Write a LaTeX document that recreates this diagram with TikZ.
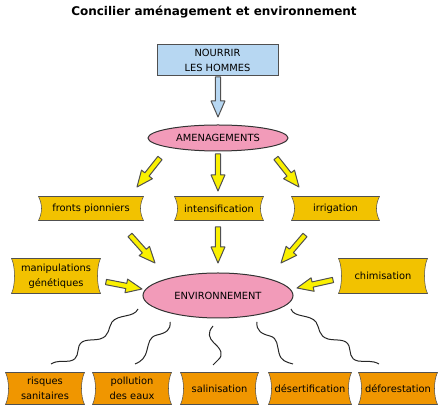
\documentclass[tikz,border=0pt]{standalone}
\usepackage{fontspec}
\setmainfont{DejaVu Sans}
\usetikzlibrary{shapes.geometric,calc,backgrounds}

\definecolor{hommesblue}{RGB}{183,215,242}
\definecolor{envpink}{RGB}{242,155,185}
\definecolor{actiongold}{RGB}{242,194,0}
\definecolor{effectorange}{RGB}{240,150,0}
\definecolor{arrowyellow}{RGB}{250,240,0}
\definecolor{edgegray}{RGB}{80,80,80}

\tikzset{every picture/.style={line width=0.75pt}}
\tikzset{
	boxtext/.style={inner sep=0pt, align=center, font=\fontsize{7.4}{11.25}\selectfont},
	goalbox/.style={boxtext, draw=edgegray, fill=hommesblue},
	hub/.style={boxtext, ellipse, draw=black!80, fill=envpink},
	curvedbox/.style={draw=edgegray},
	yarrow/.style={draw=edgegray, fill=arrowyellow, line join=round},
	barrow/.style={draw=edgegray, fill=hommesblue, line join=round},
	wave/.style={black!85, line width=0.75pt},
}

% block arrow: style, tail, tip
\newcommand{\blockarrow}[3]{%
	\coordinate (ba) at ($#3!12pt!#2$);
	\draw[#1] ($#2!2pt!90:#3$) -- ($(ba)!2pt!90:#3$) -- ($(ba)!5.2pt!90:#3$) -- #3 -- ($(ba)!5.2pt!-90:#3$) -- ($(ba)!2pt!-90:#3$) -- ($#2!2pt!-90:#3$) -- cycle;}

\begin{document}
\begin{tikzpicture}[x=0.75pt,y=0.75pt,yscale=-1,xscale=1]
	\useasboundingbox (0,0) rectangle (444,416);
	
	% Title
	\node (title) [anchor=base, inner sep=0pt, font=\fontsize{9}{11}\selectfont\bfseries] at (214,16) {Concilier aménagement et environnement};
	
	% Top of the chain
	\node (nourrir) [goalbox, minimum width=121*0.75pt, minimum height=31*0.75pt] at (217.5,60.5) {NOURRIR\\LES HOMMES};
	\node (amen) [hub, minimum width=140*0.75pt, minimum height=26*0.75pt] at (218,138) {AMENAGEMENTS};
	\node (env) [hub, minimum width=150*0.75pt, minimum height=45*0.75pt] at (218,295.5) {ENVIRONNEMENT};
	
	% Actions
	\node (fronts) [boxtext, minimum width=104*0.75pt, minimum height=23*0.75pt] at (91,208.5) {fronts pionniers};
	\node (intens) [boxtext, minimum width=88*0.75pt, minimum height=23*0.75pt] at (219,208.5) {intensification};
	\node (irrig) [boxtext, minimum width=87*0.75pt, minimum height=23*0.75pt] at (335.5,208.5) {irrigation};
	\node (manip) [boxtext, minimum width=88*0.75pt, minimum height=34*0.75pt] at (56,276) {manipulations\\génétiques};
	\node (chimis) [boxtext, minimum width=88*0.75pt, minimum height=34*0.75pt] at (383,276) {chimisation};
	
	% Effects
	\node (risques) [boxtext, minimum width=78*0.75pt, minimum height=31*0.75pt] at (45,388.5) {risques\\sanitaires};
	\node (pollution) [boxtext, minimum width=78*0.75pt, minimum height=31*0.75pt] at (132,388.5) {pollution\\des eaux};
	\node (salin) [boxtext, minimum width=77*0.75pt, minimum height=31*0.75pt] at (219.5,388.5) {salinisation};
	\node (desert) [boxtext, minimum width=82*0.75pt, minimum height=31*0.75pt] at (310,388.5) {désertification};
	\node (defor) [boxtext, minimum width=78*0.75pt, minimum height=31*0.75pt] at (398,388.5) {déforestation};
	
	% Curved sided boxes
	\begin{scope}[on background layer]
		\foreach \n/\c in {fronts/actiongold, intens/actiongold, irrig/actiongold, manip/actiongold, chimis/actiongold, risques/effectorange, pollution/effectorange, salin/effectorange, desert/effectorange, defor/effectorange}
		\draw[curvedbox, fill=\c] (\n.north west) -- (\n.north east) .. controls +(-4,8) and +(-4,-8) .. (\n.south east) -- (\n.south west) .. controls +(4,-8) and +(4,8) .. (\n.north west) -- cycle;
	\end{scope}
	
	% Arrow ends
	\coordinate (t0) at (218,77);   \coordinate (h0) at (218,117);
	\coordinate (t1) at (160,158);  \coordinate (h1) at (137,187);
	\coordinate (t2) at (218,154);  \coordinate (h2) at (218,191);
	\coordinate (t3) at (276,158);  \coordinate (h3) at (299,187);
	\coordinate (t4) at (130,235);  \coordinate (h4) at (155,263);
	\coordinate (t5) at (218,227);  \coordinate (h5) at (218,263);
	\coordinate (t6) at (305,235);  \coordinate (h6) at (281,263);
	\coordinate (t7) at (106,282);  \coordinate (h7) at (142,289);
	\coordinate (t8) at (333,280);  \coordinate (h8) at (297,288);
	
	\blockarrow{barrow}{(t0)}{(h0)}
	\foreach \i in {1,...,8}{
		\blockarrow{yarrow}{(t\i)}{(h\i)}
	}
	
	% Wavy links
	\draw[wave] (138,309) .. controls (134,318) and (118,314) .. (112,322) .. controls (108,328) and (110,336) .. (100,339) .. controls (92,341) and (82,338) .. (79,346) .. controls (77,352) and (79,359) .. (70,361) .. controls (62,362) and (58,360) .. (51,364);
	\draw[wave] (170,322) .. controls (171,330) and (166,333) .. (157,335) .. controls (149,337) and (149,343) .. (147,350) .. controls (145,358) and (142,361) .. (135,364);
	\draw[wave] (213,326) .. controls (207,333) and (209,338) .. (214,343) .. controls (221,349) and (224,355) .. (218,360) .. controls (216,362) and (214,364) .. (213,365);
	\draw[wave] (257,322) .. controls (256,331) and (262,334) .. (270,336) .. controls (278,338) and (277,346) .. (279,353) .. controls (281,361) and (286,362) .. (293,364);
	\draw[wave] (291,309) .. controls (294,318) and (310,314) .. (316,322) .. controls (320,328) and (318,336) .. (328,339) .. controls (336,341) and (346,338) .. (349,346) .. controls (351,352) and (349,359) .. (358,361) .. controls (366,362) and (372,360) .. (379,364);
	
\end{tikzpicture}
\end{document}
